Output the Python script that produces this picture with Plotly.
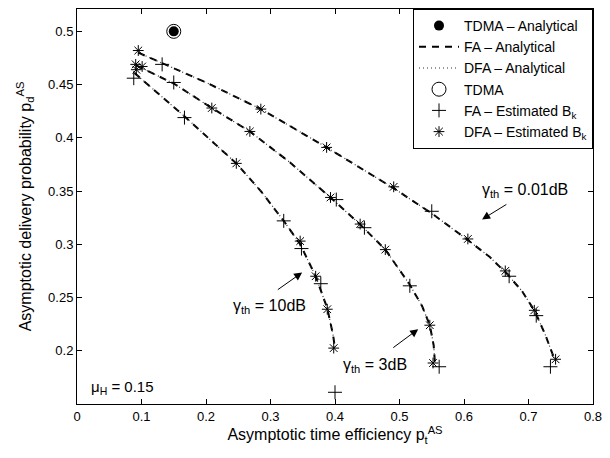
import plotly.graph_objects as go

# ---------------- data ----------------
tdma_x = [0.15]
tdma_y = [0.50]

# analytical curves (FA dashed / DFA dotted overlap)
a_x = [0.095, 0.15, 0.20, 0.285, 0.387, 0.49, 0.55, 0.606, 0.64, 0.667, 0.69, 0.71, 0.726, 0.741]
a_y = [0.480, 0.465, 0.452, 0.427, 0.391, 0.353, 0.329, 0.304, 0.288, 0.272, 0.256, 0.237, 0.215, 0.191]
b_x = [0.092, 0.15, 0.209, 0.268, 0.33, 0.393, 0.44, 0.478, 0.516, 0.535, 0.547, 0.553, 0.555]
b_y = [0.468, 0.451, 0.428, 0.406, 0.377, 0.344, 0.318, 0.295, 0.262, 0.242, 0.224, 0.205, 0.188]
c_x = [0.089, 0.167, 0.247, 0.285, 0.3205, 0.346, 0.370, 0.388, 0.397, 0.400]
c_y = [0.461, 0.420, 0.376, 0.350, 0.322, 0.300, 0.270, 0.240, 0.215, 0.202]

# estimated points, FA (+)
fa_x = [0.132, 0.550, 0.670, 0.712, 0.734,
        0.150, 0.402, 0.4456, 0.516, 0.5615,
        0.088, 0.1666, 0.3205, 0.348, 0.378, 0.400]
fa_y = [0.469, 0.331, 0.270, 0.233, 0.185,
        0.452, 0.342, 0.3156, 0.261, 0.185,
        0.456, 0.419, 0.322, 0.296, 0.263, 0.161]

# estimated points, DFA (*)
dfa_x = [0.095, 0.285, 0.387, 0.491, 0.606, 0.664, 0.709, 0.742,
         0.091, 0.101, 0.209, 0.268, 0.393, 0.439, 0.478, 0.547, 0.552,
         0.092, 0.247, 0.346, 0.370, 0.388, 0.398]
dfa_y = [0.482, 0.427, 0.391, 0.354, 0.305, 0.275, 0.238, 0.192,
         0.469, 0.467, 0.428, 0.406, 0.344, 0.319, 0.295, 0.224, 0.1885,
         0.464, 0.376, 0.303, 0.270, 0.239, 0.2025]

x_ticks = [0, 0.1, 0.2, 0.3, 0.4, 0.5, 0.6, 0.7, 0.8]
x_labels = ["0", "0.1", "0.2", "0.3", "0.4", "0.5", "0.6", "0.7", "0.8"]
y_ticks = [0.2, 0.25, 0.3, 0.35, 0.4, 0.45, 0.5]
y_labels = ["0.2", "0.25", "0.3", "0.35", "0.4", "0.45", "0.5"]

FONT = "Liberation Sans, Arial, sans-serif"

fig = go.Figure()

fig.add_trace(go.Scatter(x=tdma_x, y=tdma_y, mode="markers", name="TDMA – Analytical",
                         marker=dict(symbol="circle", size=10, color="black"), legendrank=1))
curves = [(a_x, a_y), (b_x, b_y), (c_x, c_y)]
for i, (cx, cy) in enumerate(curves):
    fig.add_trace(go.Scatter(x=cx, y=cy, mode="lines", name="FA – Analytical",
                             line=dict(color="black", width=2, dash="7px,6px"),
                             showlegend=(i == 0), legendrank=2))
for i, (cx, cy) in enumerate(curves):
    fig.add_trace(go.Scatter(x=cx, y=cy, mode="lines", name="DFA – Analytical",
                             line=dict(color="#333333", width=1.2, dash="1px,3px"),
                             showlegend=(i == 0), legendrank=3))
fig.add_trace(go.Scatter(x=tdma_x, y=tdma_y, mode="markers", name="TDMA",
                         marker=dict(symbol="circle-open", size=14, color="black",
                                     line=dict(width=1, color="black")), legendrank=4))
fig.add_trace(go.Scatter(x=fa_x, y=fa_y, mode="markers", name="FA – Estimated B<sub>k</sub>",
                         marker=dict(symbol="cross-thin-open", size=10, color="black",
                                     line=dict(width=1, color="black")), legendrank=5))
fig.add_trace(go.Scatter(x=dfa_x, y=dfa_y, mode="markers", name="DFA – Estimated B<sub>k</sub>",
                         marker=dict(symbol="asterisk-open", size=9, color="black",
                                     line=dict(width=1, color="black")), legendrank=6))

ann_font = dict(family=FONT, size=16, color="black")
arrow = dict(axref="x", ayref="y", text="", showarrow=True, arrowhead=2,
             arrowsize=1.6, arrowwidth=1, arrowcolor="black")
annotations = [
    dict(x=0.695, y=0.3505, text="γ<sub>th</sub> = 0.01dB", showarrow=False, font=ann_font),
    dict(x=0.628, y=0.3234, ax=0.668, ay=0.3383, **arrow),
    dict(x=0.298, y=0.242, text="γ<sub>th</sub> = 10dB", showarrow=False, font=ann_font),
    dict(x=0.349, y=0.2735, ax=0.309, ay=0.2564, **arrow),
    dict(x=0.462, y=0.186, text="γ<sub>th</sub> = 3dB", showarrow=False, font=ann_font),
    dict(x=0.529, y=0.2203, ax=0.488, ay=0.2019, **arrow),
    dict(x=0.07, y=0.1655, text="μ<sub>H</sub> = 0.15", showarrow=False,
         font=dict(family=FONT, size=15, color="black")),
]

axis_common = dict(showgrid=False, zeroline=False, showline=True, linecolor="black",
                   linewidth=1, mirror="ticks", ticks="inside", ticklen=5,
                   tickcolor="black", tickfont=dict(family=FONT, size=13, color="black"))

fig.update_layout(
    width=610, height=458,
    margin=dict(l=77, r=11, t=8, b=54),
    paper_bgcolor="white", plot_bgcolor="white",
    font=dict(family=FONT, size=13, color="black"),
    xaxis=dict(range=[0, 0.8], tickvals=x_ticks, ticktext=x_labels,
               title=dict(text="Asymptotic time efficiency p<sub>t</sub><sup>AS</sup>",
                          font=dict(family=FONT, size=16), standoff=4),
               **axis_common),
    yaxis=dict(range=[0.15, 0.521], tickvals=y_ticks, ticktext=y_labels,
               title=dict(text="Asymptotic delivery probability p<sub>d</sub><sup>AS</sup>",
                          font=dict(family=FONT, size=16), standoff=12),
               **axis_common),
    legend=dict(x=1, xanchor="right", y=1, yanchor="top",
                bgcolor="white", bordercolor="black", borderwidth=1,
                font=dict(family=FONT, size=14), itemwidth=40,
                tracegroupgap=0, traceorder="normal"),
    annotations=annotations,
    showlegend=True,
)

fig.write_html("out.html")
